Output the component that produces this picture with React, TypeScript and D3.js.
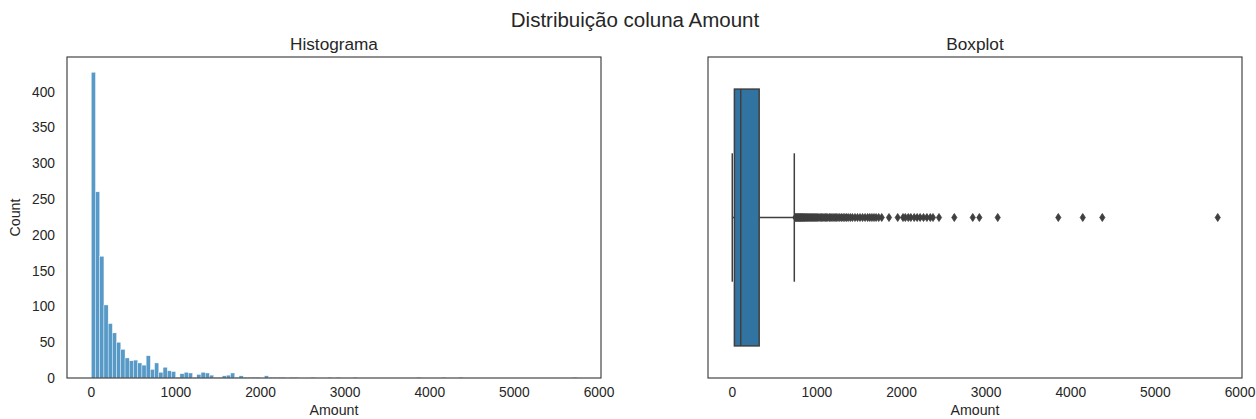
import React, { useEffect, useRef } from 'react';
import * as d3 from 'd3';

// histogram counts, 115 equal bins from 0 to the max Amount
const histCounts = [
  427, 260, 170, 102, 76, 63, 50, 40, 28, 24,
  25, 21, 18, 31, 12, 21, 8, 15, 10, 9,
  1, 6, 8, 7, 1, 5, 8, 7, 4, 1,
  1, 3, 4, 7, 1, 3, 1, 1, 1, 1,
  0, 3, 1, 1, 1, 1, 0, 1, 1, 0,
  0, 0, 1, 0, 0, 0, 1, 0, 1, 0,
  0, 0, 1, 0, 0, 0, 0, 0, 0, 0,
  0, 0, 0, 0, 0, 0, 0, 1, 0, 0,
  0, 0, 0, 1, 0, 0, 0, 1, 0, 0,
  0, 0, 0, 0, 0, 0, 0, 0, 0, 0,
  0, 0, 0, 0, 0, 0, 0, 0, 0, 0,
  0, 0, 0, 0, 1,
];
const amountMax = 5737;

// boxplot summary
const whiskers = [0, 733];
const quartiles = [25, 100, 318];
const outliers = [
  745, 752, 760, 768, 775, 783, 790, 798, 805, 812, 820, 828, 835, 845, 852,
  860, 870, 880, 890, 900, 912, 925, 935, 948, 960, 972, 985, 998, 1010, 1025,
  1040, 1055, 1070, 1085, 1100, 1115, 1130, 1150, 1165, 1180, 1200, 1215, 1230,
  1250, 1270, 1290, 1310, 1330, 1350, 1370, 1395, 1420, 1450, 1480, 1510, 1540,
  1570, 1600, 1625, 1650, 1675, 1700, 1730, 1766, 1852, 1955, 2018, 2045, 2080,
  2110, 2150, 2185, 2220, 2260, 2300, 2340, 2372, 2443, 2624, 2842, 2920, 3137,
  3853, 4142, 4373, 5737,
];

const xTicks = [0, 1000, 2000, 3000, 4000, 5000, 6000];
const yTicks = [0, 50, 100, 150, 200, 250, 300, 350, 400];

const W = 1256;
const H = 419;
const FONT = "'Liberation Sans', Arial, sans-serif";
const TEXT = '#262626';

function App() {
  const ref = useRef<SVGSVGElement>(null);

  useEffect(() => {
    const svg = d3.select(ref.current);
    svg.selectAll('*').remove();

    const top = 57;
    const bottom = 378;
    const left1 = 67, right1 = 601;
    const left2 = 708, right2 = 1242;

    const pad = amountMax * 0.05;
    const x1 = d3.scaleLinear().domain([-pad, amountMax + pad]).range([left1, right1]);
    const x2 = d3.scaleLinear().domain([-pad, amountMax + pad]).range([left2, right2]);
    const y1 = d3.scaleLinear().domain([0, d3.max(histCounts)! * 1.05]).range([bottom, top]);
    const y2 = d3.scaleLinear().domain([-0.5, 0.5]).range([top, bottom]);

    // suptitle
    svg.append('text')
      .attr('x', 635).attr('y', 27)
      .attr('text-anchor', 'middle')
      .attr('font-size', 20.5)
      .attr('fill', TEXT)
      .text('Distribuição coluna Amount');

    // ---------- histogram ----------
    const binW = amountMax / histCounts.length;
    const hist = svg.append('g');
    hist.selectAll('rect')
      .data(histCounts.map((c, i) => ({ c, i })).filter(d => d.c > 0))
      .enter().append('rect')
      .attr('x', d => x1(d.i * binW))
      .attr('width', d => x1((d.i + 1) * binW) - x1(d.i * binW))
      .attr('y', d => y1(d.c))
      .attr('height', d => bottom - y1(d.c))
      .attr('fill', '#1f77b4')
      .attr('fill-opacity', 0.75)
      .attr('stroke', '#ffffff')
      .attr('stroke-width', 0.4);

    // ---------- boxplot ----------
    const box = svg.append('g');
    const cy = y2(0);
    const lineCol = '#3f3f3f';
    box.append('line')
      .attr('x1', x2(whiskers[0])).attr('x2', x2(quartiles[0]))
      .attr('y1', cy).attr('y2', cy)
      .attr('stroke', lineCol).attr('stroke-width', 1.5);
    box.append('line')
      .attr('x1', x2(quartiles[2])).attr('x2', x2(whiskers[1]))
      .attr('y1', cy).attr('y2', cy)
      .attr('stroke', lineCol).attr('stroke-width', 1.5);
    whiskers.forEach(w => {
      box.append('line')
        .attr('x1', x2(w)).attr('x2', x2(w))
        .attr('y1', y2(-0.2)).attr('y2', y2(0.2))
        .attr('stroke', lineCol).attr('stroke-width', 1.5);
    });
    box.append('rect')
      .attr('x', x2(quartiles[0]))
      .attr('width', x2(quartiles[2]) - x2(quartiles[0]))
      .attr('y', y2(-0.4))
      .attr('height', y2(0.4) - y2(-0.4))
      .attr('fill', '#3274a1')
      .attr('stroke', lineCol).attr('stroke-width', 1.5);
    box.append('line')
      .attr('x1', x2(quartiles[1])).attr('x2', x2(quartiles[1]))
      .attr('y1', y2(-0.4)).attr('y2', y2(0.4))
      .attr('stroke', lineCol).attr('stroke-width', 1.5);

    // thin diamond fliers
    const dw = 2.6, dh = 4;
    box.selectAll('path.flier')
      .data(outliers)
      .enter().append('path')
      .attr('class', 'flier')
      .attr('d', v => {
        const px = x2(v);
        return `M${px},${cy - dh}L${px + dw},${cy}L${px},${cy + dh}L${px - dw},${cy}Z`;
      })
      .attr('fill', lineCol)
      .attr('stroke', lineCol)
      .attr('stroke-width', 0.8);

    // ---------- frames, ticks, labels ----------
    const panels = [
      { l: left1, r: right1, x: x1, title: 'Histograma' },
      { l: left2, r: right2, x: x2, title: 'Boxplot' },
    ];
    panels.forEach(p => {
      svg.append('rect')
        .attr('x', p.l).attr('y', top)
        .attr('width', p.r - p.l).attr('height', bottom - top)
        .attr('fill', 'none')
        .attr('stroke', '#333333')
        .attr('stroke-width', 1.1);

      svg.append('g')
        .selectAll('text')
        .data(xTicks)
        .enter().append('text')
        .attr('x', d => p.x(d))
        .attr('y', 397)
        .attr('text-anchor', 'middle')
        .attr('font-size', 13.8)
        .attr('fill', TEXT)
        .text(d => String(d));

      svg.append('text')
        .attr('x', (p.l + p.r) / 2).attr('y', 415)
        .attr('text-anchor', 'middle')
        .attr('font-size', 14.2)
        .attr('fill', TEXT)
        .text('Amount');

      svg.append('text')
        .attr('x', (p.l + p.r) / 2).attr('y', 50)
        .attr('text-anchor', 'middle')
        .attr('font-size', 17.2)
        .attr('fill', TEXT)
        .text(p.title);
    });

    svg.append('g')
      .selectAll('text')
      .data(yTicks)
      .enter().append('text')
      .attr('x', 55)
      .attr('y', d => y1(d))
      .attr('dy', '0.36em')
      .attr('text-anchor', 'end')
      .attr('font-size', 13.8)
      .attr('fill', TEXT)
      .text(d => String(d));

    svg.append('text')
      .attr('transform', `translate(20,${(top + bottom) / 2}) rotate(-90)`)
      .attr('text-anchor', 'middle')
      .attr('font-size', 14.2)
      .attr('fill', TEXT)
      .text('Count');
  }, []);

  return (
    <svg
      ref={ref}
      width={W}
      height={H}
      style={{ position: 'absolute', left: 0, top: 0, background: '#ffffff', fontFamily: FONT }}
    />
  );
}

export default App;
